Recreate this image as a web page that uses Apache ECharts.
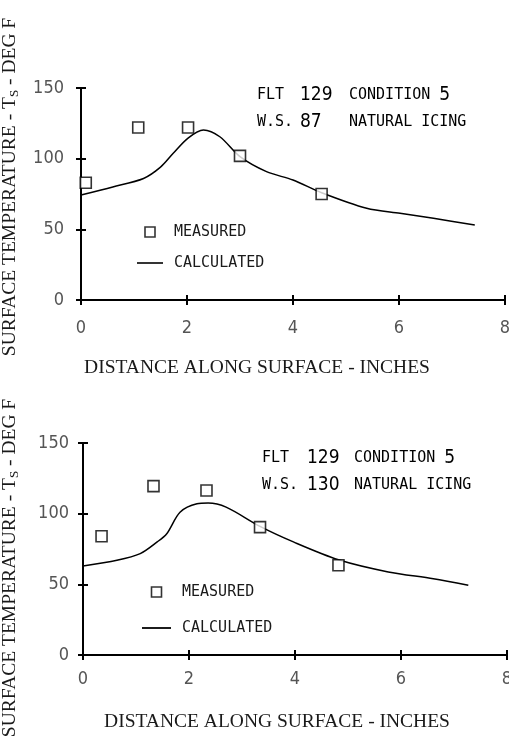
<!DOCTYPE html>
<html><head><meta charset="utf-8">
<script src="https://cdn.jsdelivr.net/npm/echarts@6/dist/echarts.min.js"></script>
<style>html,body{margin:0;padding:0;background:#fff}#c{width:509px;height:744px}</style>
</head><body><div id="c"></div>
<script>
// ---- data ----
const xTickMax = 8, xTickStep = 2;
const yTickMax = 150, yTickStep = 50;
const topMeasuredX = [0.09, 1.08, 2.02, 3.0, 4.54];
const topMeasuredY = [83, 122, 122, 102, 75];
const topCalcX = [0, 0.6, 1.18, 1.5, 1.74, 2.02, 2.31, 2.62, 3.0, 3.5, 4.0, 4.54, 5.39, 6.02, 6.65, 7.43];
const topCalcY = [74.3, 80, 86, 94, 103.8, 114.6, 120.3, 115.5, 101.4, 90.8, 84.9, 75.9, 64.9, 61.3, 57.8, 53];
const botMeasuredX = [0.35, 1.33, 2.33, 3.34, 4.82];
const botMeasuredY = [84, 119.5, 116.4, 90.5, 63.5];
const botCalcX = [0, 0.64, 1.08, 1.4, 1.58, 1.83, 2.15, 2.36, 2.7, 3.34, 3.97, 4.82, 5.76, 6.61, 7.27];
const botCalcY = [63, 67, 71.7, 80, 85.8, 101, 107, 107.5, 104.6, 91, 80, 67.4, 58.8, 54, 49.4];
const seriesNames = ['MEASURED', 'CALCULATED'];
const xTitle = 'DISTANCE ALONG SURFACE - INCHES';
const yTitle = '{m|SURFACE TEMPERATURE - T}{s|S}{m| - DEG F}';
const topNote1 = ['FLT ', '129', 'CONDITION ', '5'];
const topNote2 = ['W.S. ', '87', 'NATURAL ICING'];
const botNote1 = ['FLT ', '129', 'CONDITION ', '5'];
const botNote2 = ['W.S. ', '130', 'NATURAL ICING'];

const zip = (a, b) => a.map((v, i) => [v, b[i]]);
const NUM = '"DejaVu Sans Condensed","Liberation Sans Narrow",sans-serif';
const SERIF = '"Liberation Serif","DejaVu Serif",serif';
const MONO = '"DejaVu Sans Mono","Liberation Mono",monospace';

function xAxes(g, nameGap, padR, margin) {
  return [{
    gridIndex: g, type: 'value', min: 0, max: xTickMax, interval: xTickStep,
    axisLine: {lineStyle: {color: '#000', width: 2}},
    axisTick: {show: true, length: 5, lineStyle: {color: '#000', width: 2}},
    axisLabel: {margin: margin, color: '#555', fontFamily: NUM, fontSize: 18},
    splitLine: {show: false},
    name: xTitle, nameLocation: 'middle', nameGap: nameGap,
    nameTextStyle: {fontFamily: SERIF, fontSize: 19.5, color: '#1a1a1a', padding: [0, padR, 0, 0]}
  }, {
    gridIndex: g, type: 'value', min: 0, max: xTickMax, interval: xTickStep, position: 'bottom',
    axisLine: {show: false},
    axisTick: {show: true, inside: true, length: 5, lineStyle: {color: '#000', width: 2}},
    axisLabel: {show: false}, splitLine: {show: false}
  }];
}
function yAxes(g, nameGap, pad, margin) {
  return [{
    gridIndex: g, type: 'value', min: 0, max: yTickMax, interval: yTickStep,
    axisLine: {show: true, lineStyle: {color: '#000', width: 2}},
    axisTick: {show: true, length: 5, lineStyle: {color: '#000', width: 2}},
    axisLabel: {margin: margin, color: '#555', fontFamily: NUM, fontSize: 18},
    splitLine: {show: false},
    name: yTitle, nameLocation: 'middle', nameGap: nameGap, nameRotate: 90,
    nameTextStyle: {padding: pad, rich: {
      m: {fontFamily: SERIF, fontSize: 19.5, color: '#1a1a1a', lineHeight: 22},
      s: {fontFamily: SERIF, fontSize: 13, color: '#1a1a1a', lineHeight: 22, verticalAlign: 'bottom', padding: [6, 0, 0, 0]}
    }}
  }, {
    gridIndex: g, type: 'value', min: 0, max: yTickMax, interval: yTickStep, position: 'left',
    axisLine: {show: false},
    axisTick: {show: true, inside: true, length: 5, lineStyle: {color: '#000', width: 2}},
    axisLabel: {show: false}, splitLine: {show: false}
  }];
}
function note(parts1, parts2, left, top, w1, w2) {
  const rich = {
    t: {fontFamily: MONO, fontSize: 15, color: '#1a1a1a', lineHeight: 27},
    n: {fontFamily: NUM, fontSize: 19, color: '#444', lineHeight: 27}
  };
  const mk = (parts, ws) => parts.map((p, i) => {
    const isNum = /^\d+$/.test(p);
    const k = (isNum ? 'n' : 't') + i;
    rich[k] = Object.assign({}, rich[isNum ? 'n' : 't'], ws[i] ? {width: ws[i]} : {});
    return '{' + k + '|' + p + '}';
  }).join('');
  return [
    {type: 'text', left: left, top: top, style: {text: mk(parts1, w1), rich: rich}},
    {type: 'text', left: left, top: top + 27, style: {text: mk(parts2, w2), rich: rich}}
  ];
}
function legend(left, top, w, gap) {
  return {
    orient: 'vertical', left: left, top: top, itemWidth: w, itemHeight: 10, itemGap: gap,
    padding: 0, selectedMode: false, symbolKeepAspect: true,
    data: [
      {name: seriesNames[0], icon: 'path://M0,0H10V10H0Z', itemStyle: {color: '#fff', borderColor: '#000', borderWidth: 1.6}},
      {name: seriesNames[1], icon: 'path://M0,0H26V1.6H0Z', itemStyle: {color: '#000', borderWidth: 0}}
    ],
    textStyle: {fontFamily: MONO, fontSize: 15, color: '#1a1a1a', lineHeight: 16, padding: [0, 0, 0, 6]}
  };
}
const scatterStyle = {color: '#fff', borderColor: '#000', borderWidth: 1.6};
const option = {
  animation: false,
  backgroundColor: '#fff',
  grid: [
    {left: 81, top: 88, width: 424, height: 212, containLabel: false, outerBoundsMode: 'none'},
    {left: 83, top: 443, width: 424, height: 212, containLabel: false, outerBoundsMode: 'none'}
  ],
  xAxis: [...xAxes(0, 58, 72, 19), ...xAxes(1, 57, 36, 15)],
  yAxis: [...yAxes(0, 60, [0, 0, 0, 14], 17), ...yAxes(1, 62, [0, 38, 0, 0], 14)],
  legend: [legend(137, 224, 26, 15), legend(142, 584, 29, 20)],
  series: [
    {name: seriesNames[0], type: 'scatter', xAxisIndex: 0, yAxisIndex: 0, symbol: 'rect', symbolSize: 11,
     itemStyle: scatterStyle, data: zip(topMeasuredX, topMeasuredY), z: 3},
    {name: seriesNames[1], type: 'line', xAxisIndex: 0, yAxisIndex: 0, symbol: 'none', smooth: 0.3,
     lineStyle: {color: '#000', width: 1.5}, itemStyle: {color: '#000'}, data: zip(topCalcX, topCalcY)},
    {name: seriesNames[0], type: 'scatter', xAxisIndex: 2, yAxisIndex: 2, symbol: 'rect', symbolSize: 11,
     itemStyle: scatterStyle, data: zip(botMeasuredX, botMeasuredY), z: 3},
    {name: seriesNames[1], type: 'line', xAxisIndex: 2, yAxisIndex: 2, symbol: 'none', smooth: 0.3,
     lineStyle: {color: '#000', width: 1.5}, itemStyle: {color: '#000'}, data: zip(botCalcX, botCalcY)}
  ],
  graphic: [
    ...note(topNote1, topNote2, 257, 86, [36, 47, 92, 0], [43, 49, 0]),
    ...note(botNote1, botNote2, 262, 449, [38, 45, 92, 0], [45, 47, 0])
  ]
};
const chart = echarts.init(document.getElementById('c'), null, {renderer: 'canvas'});
chart.setOption(option);
</script></body></html>
